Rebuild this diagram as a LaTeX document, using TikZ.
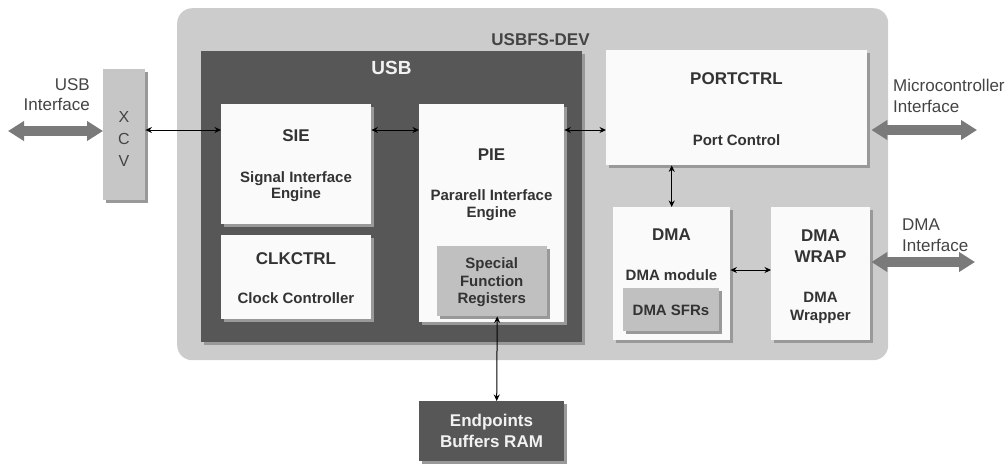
\documentclass[tikz,border=0pt]{standalone}
\usepackage{fontspec}
\setmainfont{Liberation Sans}
\usetikzlibrary{arrows.meta}

\definecolor{devgray}{HTML}{CCCCCC}
\definecolor{usbgray}{HTML}{575757}
\definecolor{boxwhite}{HTML}{FAFAFA}
\definecolor{shadowgray}{HTML}{999999}
\definecolor{sfrgray}{HTML}{C0C0C0}
\definecolor{xcvgray}{HTML}{C6C6C6}
\definecolor{busgray}{HTML}{7A7A7A}
\definecolor{textdark}{HTML}{333333}
\definecolor{textmid}{HTML}{444444}
\definecolor{textlight}{HTML}{F2F2F2}

\begin{document}
\begin{tikzpicture}[x=1pt, y=-1pt,
    block/.style args={#1x#2}{rectangle, inner sep=0pt, anchor=north west,
        minimum width=#1pt, minimum height=#2pt,
        preaction={fill=shadowgray, transform canvas={xshift=3pt, yshift=-3pt}}},
    title/.style={anchor=base, inner sep=0pt, text=textdark, font=\fontsize{17}{20}\selectfont\bfseries},
    sub/.style={anchor=base, inner sep=0pt, text=textdark, font=\fontsize{15}{18}\selectfont\bfseries},
    outside/.style={inner sep=0pt, text=textmid, font=\fontsize{17}{20}\selectfont},
    link/.style={<->, >={Stealth[length=6.5pt, width=6pt]}, line width=1pt},
    bus/.style={busgray, line width=10pt,
        {Triangle[length=16pt, width=19pt]}-{Triangle[length=16pt, width=19pt]}}]
    \useasboundingbox (0,0) rectangle (1007,464);

    % Outer module
    \node[rectangle, rounded corners=15pt, fill=devgray, inner sep=0pt, anchor=north west,
        minimum width=711pt, minimum height=352pt] (dev) at (177,8) {};
    \node[title, text=textmid] (devlabel) at (540.5,45) {USBFS-DEV};

    % USB core
    \node[block=381x291, fill=usbgray] (usb) at (201,51) {};
    \node[title, text=textlight, font=\fontsize{19}{22}\selectfont\bfseries] (usblabel) at (391.5,74) {USB};
    \node[block=150x120, fill=boxwhite] (sie) at (221,104) {};
    \node[block=150x84, fill=boxwhite] (clk) at (221,235) {};
    \node[block=145x218, fill=boxwhite] (pie) at (419,104) {};
    \node[block=110x70, fill=sfrgray] (sfr) at (437,246) {};

    % Transceiver and RAM
    \node[block=42x131, fill=xcvgray] (xcv) at (103,69) {};
    \node[block=145x60, fill=usbgray] (ram) at (419,401) {};

    % Port control and DMA
    \node[block=261x115, fill=boxwhite] (port) at (606,50) {};
    \node[block=117x133, fill=boxwhite] (dma) at (613,207) {};
    \node[block=96x43, fill=sfrgray] (dmasfr) at (623,288) {};
    \node[block=99x133, fill=boxwhite] (wrap) at (771,207) {};

    % Titles
    \foreach \n/\x/\y/\t in {sie/296/141/SIE, pie/491.5/160.3/PIE, clk/296/264.3/CLKCTRL,
                             port/736.5/84/PORTCTRL, dma/671.5/240/DMA,
                             wrapa/820.5/241/DMA, wrapb/820.5/262/WRAP} {
        \node[title] (\n-t) at (\x,\y) {\t};
    }

    % Descriptions
    \foreach \x/\y/\t [count=\i] in {296/182.3/Signal Interface, 296/198.3/Engine,
                                     491.5/200/Pararell Interface, 491.5/217.3/Engine,
                                     296/303.3/Clock Controller, 491.7/268.3/Special,
                                     491.7/286/Function, 491.7/303.3/Registers,
                                     736.5/145/Port Control, 671.5/280/DMA module,
                                     671/315/DMA SFRs, 820.5/302/DMA, 820.5/320/Wrapper} {
        \node[sub] (sub\i) at (\x,\y) {\t};
    }

    % RAM text
    \node[title, text=textlight] (ram-a) at (491.5,426.7) {Endpoints};
    \node[title, text=textlight] (ram-b) at (491.5,447.7) {Buffers RAM};

    % XCV letters
    \foreach \y/\t [count=\i] in {122/X, 144/C, 166/V} {
        \node[outside, anchor=base, font=\fontsize{16}{19}\selectfont] (xcv\i) at (124,\y) {\t};
    }

    % Interface labels
    \node[outside, anchor=base east] (usbif-a) at (90,90.7) {USB};
    \node[outside, anchor=base east] (usbif-b) at (90,110.7) {Interface};
    \node[outside, anchor=base west] (mcuif-a) at (893,91) {Microcontroller};
    \node[outside, anchor=base west] (mcuif-b) at (893,112) {Interface};
    \node[outside, anchor=base west] (dmaif-a) at (902,230) {DMA};
    \node[outside, anchor=base west] (dmaif-b) at (902,251) {Interface};

    % Internal links
    \coordinate (busline) at (0,130);
    \coordinate (dmaline) at (0,270);
    \draw[link] (xcv.east |- busline) -- (sie.west |- busline);
    \draw[link] (sie.east |- busline) -- (pie.west |- busline);
    \draw[link] (pie.east |- busline) -- (port.west |- busline);
    \draw[link] (port.south -| dma.north) -- (dma.north);
    \draw[link] (dma.east |- dmaline) -- (wrap.west |- dmaline);
    \draw[link] ([xshift=5pt]sfr.south) -- ([xshift=5pt]ram.north);

    % External interfaces
    \coordinate (usbend) at (8,131);
    \coordinate (mcuend) at (977,130);
    \coordinate (dmaend) at (975,262);
    \draw[bus] (usbend) -- (xcv.west |- usbend);
    \draw[bus, shorten <=4pt] (port.east |- mcuend) -- (mcuend);
    \draw[bus, shorten <=1pt] (wrap.east |- dmaend) -- (dmaend);
\end{tikzpicture}
\end{document}
